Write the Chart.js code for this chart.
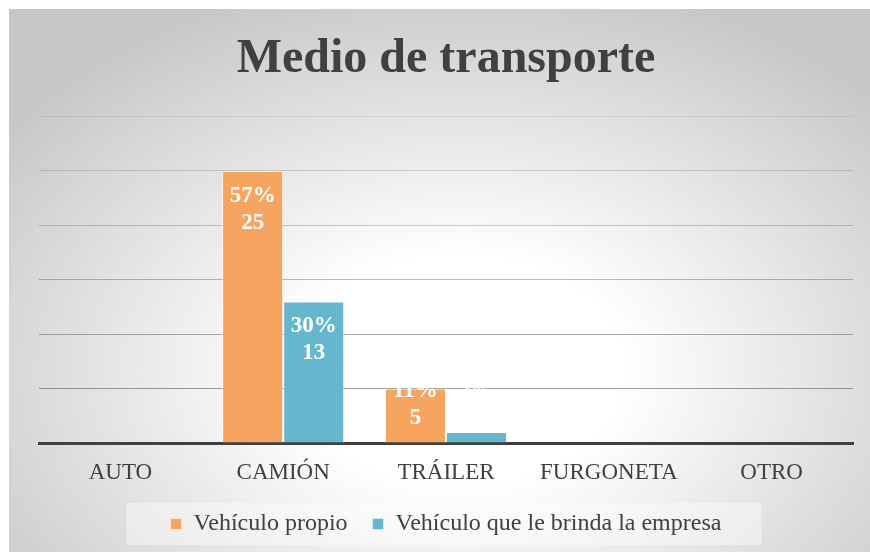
<!DOCTYPE html>
<html>
<head>
<meta charset="utf-8">
<title>Medio de transporte</title>
<script src="https://cdn.jsdelivr.net/npm/chart.js@4"></script>
<style>
  body { margin: 0; background: #ffffff; }
  canvas { display: block; }
</style>
</head>
<body>
<canvas id="grafica_transporte" width="870" height="552"></canvas>
<script>
// datos
const categorias = ['AUTO', 'CAMIÓN', 'TRÁILER', 'FURGONETA', 'OTRO'];
const vehiculo_propio = [0, 25, 5, 0, 0];
const vehiculo_empresa = [0, 13, 1, 0, 0];
const series = ['Vehículo propio', 'Vehículo que le brinda la empresa'];
const titulo = 'Medio de transporte';

const total = [...vehiculo_propio, ...vehiculo_empresa].reduce((a, b) => a + b, 0);
const fuente = "'Liberation Serif', 'Times New Roman', serif";

// fondo degradado y caja de la leyenda
const fondo = {
    id: 'fondo',
    beforeDraw(chart) {
        const ctx = chart.ctx;
        ctx.save();
        ctx.fillStyle = '#ffffff';
        ctx.fillRect(0, 0, chart.width, chart.height);
        ctx.beginPath();
        ctx.rect(9, 9, chart.width - 9, chart.height - 9);
        ctx.clip();
        ctx.translate(460, 370);
        ctx.scale(1, 0.7);
        const grad = ctx.createRadialGradient(0, 0, 0, 0, 0, 580);
        grad.addColorStop(0, '#ffffff');
        grad.addColorStop(0.28, '#ffffff');
        grad.addColorStop(1, '#c6c6c6');
        ctx.fillStyle = grad;
        ctx.fillRect(-700, -900, 1400, 1800);
        ctx.restore();

        const cajas = chart.legend.legendHitBoxes;
        if (cajas && cajas.length) {
            const izq = cajas[0].left - 44;
            const der = cajas[cajas.length - 1].left + cajas[cajas.length - 1].width + 40;
            const centro = cajas[0].top + cajas[0].height / 2;
            ctx.save();
            ctx.fillStyle = 'rgba(255,255,255,0.4)';
            ctx.fillRect(izq, centro - 21, der - izq, 42);
            ctx.restore();
        }
    }
};

// etiquetas de porcentaje y valor dentro de las barras
const etiquetas = {
    id: 'etiquetas',
    afterDatasetsDraw(chart) {
        const ctx = chart.ctx;
        const base = chart.scales.y.getPixelForValue(0);
        ctx.save();
        ctx.fillStyle = '#ffffff';
        ctx.font = 'bold 23px ' + fuente;
        ctx.textAlign = 'center';
        ctx.textBaseline = 'middle';
        chart.data.datasets.forEach((ds, i) => {
            chart.getDatasetMeta(i).data.forEach((barra, j) => {
                const valor = ds.data[j];
                if (!valor) return;
                const pct = Math.round(valor / total * 100) + '%';
                let y2 = Math.min(barra.y + 52, base - 25);
                let y1 = y2 - 27;
                ctx.fillText(pct, barra.x, y1);
                ctx.fillText(String(valor), barra.x, y2);
            });
        });
        ctx.restore();
    }
};

const colorGrilla = [ '#404040', 'rgba(64,64,64,0.5)', 'rgba(64,64,64,0.43)', 'rgba(64,64,64,0.36)',
    'rgba(64,64,64,0.28)', 'rgba(64,64,64,0.2)', 'rgba(64,64,64,0.1)' ];

const ctx = document.getElementById('grafica_transporte').getContext('2d');
const transporteChart = new Chart(ctx, {
    type: 'bar',
    data: {
        labels: categorias,
        datasets: [{
            label: series[0],
            data: vehiculo_propio,
            backgroundColor: '#F5A560',
            borderColor: 'rgba(255,255,255,0.45)',
            borderWidth: 1,
            categoryPercentage: 0.75,
            barPercentage: 1.0
        }, {
            label: series[1],
            data: vehiculo_empresa,
            backgroundColor: '#66B7CE',
            borderColor: 'rgba(255,255,255,0.45)',
            borderWidth: 1,
            categoryPercentage: 0.75,
            barPercentage: 1.0
        }]
    },
    options: {
        responsive: false,
        animation: false,
        layout: { padding: { left: 39, right: 17, top: 0, bottom: 6 } },
        plugins: {
            title: {
                display: true,
                text: titulo,
                color: '#404040',
                font: { family: fuente, size: 48, weight: 'bold', lineHeight: 1.2 },
                padding: { top: 31, bottom: 28 }
            },
            legend: {
                position: 'bottom',
                fullSize: false,
                labels: {
                    color: '#404040',
                    font: { family: fuente, size: 24 },
                    boxWidth: 11,
                    boxHeight: 11,
                    padding: 25
                }
            },
            tooltip: { enabled: false }
        },
        scales: {
            x: {
                grid: { display: false, drawTicks: false },
                border: { display: true, color: '#404040', width: 3 },
                ticks: {
                    color: '#404040',
                    font: { family: fuente, size: 23 },
                    padding: 16,
                    maxRotation: 0
                },
                afterFit: escala => { escala.height = 44; }
            },
            y: {
                min: 0,
                max: 30,
                ticks: { display: false, stepSize: 5 },
                border: { display: false },
                grid: {
                    drawTicks: false,
                    lineWidth: 1,
                    color: c => colorGrilla[c.index] || '#cccccc'
                }
            }
        }
    },
    plugins: [fondo, etiquetas]
});
</script>
</body>
</html>
